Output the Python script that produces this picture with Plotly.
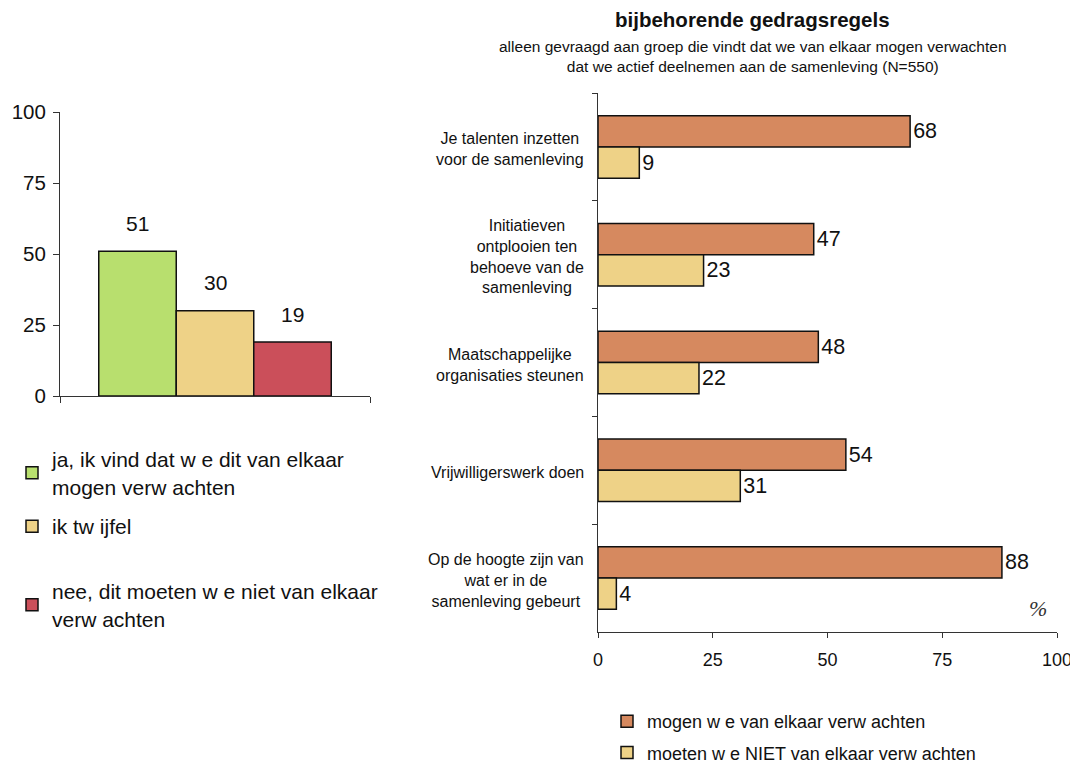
import plotly.graph_objects as go

# ---------------- data ----------------
left_labels = [
    "ja, ik vind dat w e dit van elkaar<br>mogen verw achten",
    "ik tw ijfel",
    "nee, dit moeten w e niet van elkaar<br>verw achten",
]
left_values = [51, 30, 19]
left_positions = [-1, 0, 1]
left_ticks = [0, 25, 50, 75, 100]

categories = [
    "Je talenten inzetten<br>voor de samenleving",
    "Initiatieven<br>ontplooien ten<br>behoeve van de<br>samenleving",
    "Maatschappelijke<br>organisaties steunen",
    "Vrijwilligerswerk doen",
    "Op de hoogte zijn van<br>wat er in de<br>samenleving gebeurt",
]
mogen_values = [68, 47, 48, 54, 88]
moeten_values = [9, 23, 22, 31, 4]
right_names = ["mogen w e van elkaar verw achten", "moeten w e NIET van elkaar verw achten"]
right_ticks = [0, 25, 50, 75, 100]

title_text = "bijbehorende gedragsregels"
subtitle_text = ("alleen gevraagd aan groep die vindt dat we van elkaar mogen verwachten<br>"
                 "dat we actief deelnemen aan de samenleving (N=550)")
unit_text = "%"

# ---------------- styles ----------------
PAGE_OFF = 8          # default page body margin
W, H = 1078 - PAGE_OFF, 764 - PAGE_OFF
FONT = "Liberation Sans, Arial, sans-serif"
TXT = "#111111"
AX = "#333333"
left_colors = ["#B8DF6E", "#EED287", "#CB4F5A"]
right_colors = ["#D6895F", "#EED287"]


def fx(px):
    return (px - PAGE_OFF) / W


def fy(py):
    return 1 - (py - PAGE_OFF) / H


fig = go.Figure()

left_legends = ["legend", "legend2", "legend3"]
for name, val, pos, col, lg in zip(left_labels, left_values, left_positions, left_colors, left_legends):
    fig.add_trace(go.Bar(
        x=[pos], y=[val], name=name, width=1, offset=-0.5,
        marker=dict(color=col, line=dict(color="#111111", width=1.5)),
        xaxis="x", yaxis="y", legend=lg, hoverinfo="skip",
    ))
    fig.add_annotation(x=pos, y=val, xref="x", yref="y", text=str(val), showarrow=False,
                       yshift=28, yanchor="middle", font=dict(size=21, color=TXT, family=FONT))

for name, vals, col, grp in zip(right_names, [mogen_values, moeten_values], right_colors, ["a", "b"]):
    fig.add_trace(go.Bar(
        y=categories, x=vals, name=name, orientation="h",
        marker=dict(color=col, line=dict(color="#111111", width=1.5)),
        text=[str(v) for v in vals], textposition="outside", cliponaxis=False,
        constraintext="none", textfont=dict(size=21.5, color=TXT, family=FONT),
        xaxis="x2", yaxis="y2", legend="legend4", legendgroup=grp, hoverinfo="skip",
    ))

for cat in categories:
    fig.add_annotation(x=0, y=cat, xref="x2", yref="y2", text=cat, showarrow=False,
                       xanchor="right", align="center", xshift=-12, yshift=-2,
                       font=dict(size=16, color=TXT, family=FONT))

fig.add_annotation(x=fx(752), y=fy(20), xref="paper", yref="paper", text="<b>%s</b>" % title_text,
                   showarrow=False, xanchor="center", yanchor="middle",
                   font=dict(size=20.5, color=TXT, family=FONT))
fig.add_annotation(x=fx(753), y=fy(56), xref="paper", yref="paper", text=subtitle_text,
                   showarrow=False, xanchor="center", yanchor="middle", align="center",
                   font=dict(size=15.5, color=TXT, family=FONT))
fig.add_annotation(x=fx(1038), y=fy(608), xref="paper", yref="paper", text="<i>%s</i>" % unit_text,
                   showarrow=False, xanchor="center", yanchor="middle",
                   font=dict(size=22, color=AX, family="Liberation Serif, serif"))

axis_common = dict(showgrid=False, zeroline=False, showline=True, linecolor=AX, linewidth=1,
                   ticks="outside", tickcolor=AX, tickwidth=1)


def legend_style(size):
    return dict(xanchor="left", yanchor="top", bgcolor="rgba(0,0,0,0)",
                font=dict(size=size, color=TXT, family=FONT))


fig.update_layout(
    width=W, height=H, autosize=False,
    margin=dict(l=0, r=0, t=0, b=0, autoexpand=False),
    paper_bgcolor="white", plot_bgcolor="white",
    barmode="group", bargap=0.42, bargroupgap=0,
    font=dict(family=FONT, color=TXT),
    xaxis=dict(domain=[fx(60), fx(370)], range=[-2, 2], anchor="y",
               tickmode="array", tickvals=[-2, 2], showticklabels=False, ticklen=6, **axis_common),
    yaxis=dict(domain=[fy(396), fy(112)], range=[0, 100], anchor="x",
               tickmode="array", tickvals=left_ticks, ticklen=6, ticklabelstandoff=3,
               tickfont=dict(size=20.5, color=TXT, family=FONT), **axis_common),
    xaxis2=dict(domain=[fx(598), fx(1057)], range=[0, 100], anchor="y2",
                tickmode="array", tickvals=right_ticks, ticklen=5, ticklabelstandoff=6,
                tickfont=dict(size=18, color=TXT, family=FONT), **axis_common),
    yaxis2=dict(domain=[fy(632), fy(93)], anchor="x2", type="category",
                autorange="reversed", tickson="boundaries", ticklen=5,
                showticklabels=False, **axis_common),
    legend=dict(x=fx(12), y=fy(439), **legend_style(21)),
    legend2=dict(x=fx(12), y=fy(506), **legend_style(21)),
    legend3=dict(x=fx(12), y=fy(571), **legend_style(21)),
    legend4=dict(x=fx(607), y=fy(703), traceorder="grouped", tracegroupgap=5, **legend_style(18)),
    showlegend=True,
)

fig.write_html("out.html")
